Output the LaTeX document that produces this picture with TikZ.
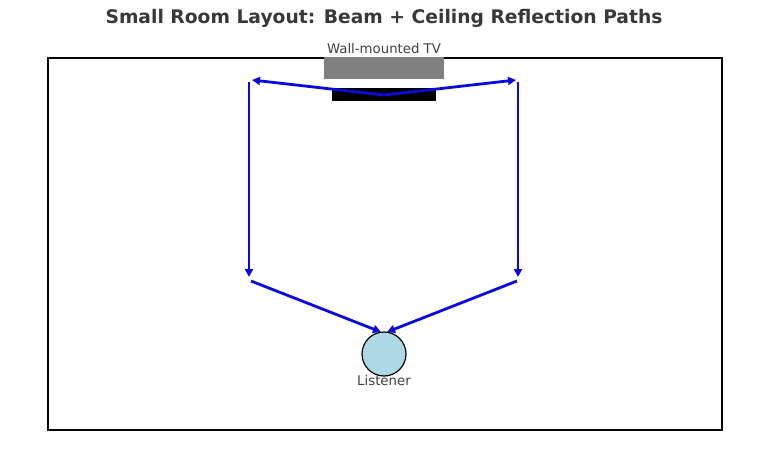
\documentclass[tikz,border=0pt]{standalone}
\usepackage{fontspec}
\setmainfont{DejaVu Sans}
\usetikzlibrary{arrows.meta}
\begin{document}
\begin{tikzpicture}[x=1pt,y=-1pt,
  ray/.style={draw={rgb,255:red,10;green,10;blue,220},fill={rgb,255:red,10;green,10;blue,220},line width=2.8pt,-{Triangle[length=8pt,width=8pt]}},
  lbl/.style={text=black!75,font=\fontsize{13.3}{16}\selectfont,inner sep=0pt}]
\useasboundingbox (0,0) rectangle (768,476);
\node[font=\bfseries\fontsize{18.7}{22}\selectfont,text=black!78] (title) at (384,18) {Small Room Layout: Beam + Ceiling Reflection Paths};
\node[draw=black,line width=1.7pt,minimum width=674pt,minimum height=372pt,inner sep=0pt,anchor=north west] (room) at (47,57) {};
\node[fill=black!50,minimum width=120pt,minimum height=22pt,inner sep=0pt,anchor=north west] (tv) at (324,57) {};
\node[lbl,anchor=base] (tvlbl) at (384,54) {Wall-mounted TV};
\node[fill=black,minimum width=104pt,minimum height=13pt,inner sep=0pt,anchor=north west] (bar) at (332,88) {};
\coordinate (src) at (384,95);
\coordinate (lt) at (252,80);
\coordinate (rt) at (516,80);
\coordinate (l1) at (249,82);
\coordinate (l2) at (249,277);
\coordinate (r1) at (518,82);
\coordinate (r2) at (518,277);
\coordinate (l3) at (251,281);
\coordinate (r3) at (517,281);
\node[circle,draw=black,line width=1.2pt,fill={rgb,255:red,173;green,216;blue,230},minimum size=44pt,inner sep=0pt] (lis) at (384,354) {};
\node[lbl,anchor=base] (lislbl) at (384,385) {Listener};
\path[ray] (src) -- (lt);
\path[ray] (src) -- (rt);
\path[ray] (l1) -- (l2);
\path[ray] (r1) -- (r2);
\path[ray] (l3) -- (381,332);
\path[ray] (r3) -- (387,332);
\end{tikzpicture}
\end{document}
